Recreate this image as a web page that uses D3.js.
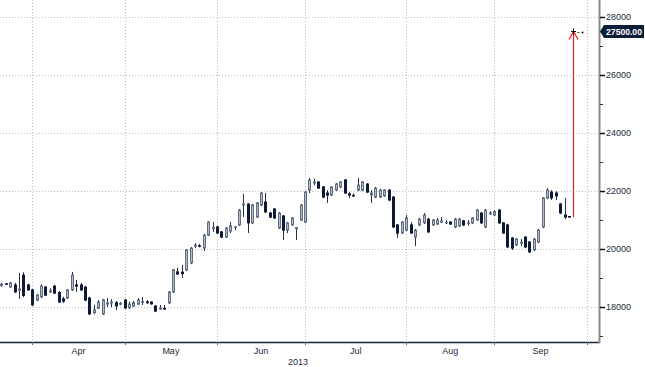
<!DOCTYPE html>
<html>
<head>
<meta charset="utf-8">
<script src="https://cdn.jsdelivr.net/npm/d3@7"></script>
<style>
  body { margin: 0; background: #ffffff; }
  text { font-family: "Liberation Sans", Arial, sans-serif; }
</style>
</head>
<body>
<script>
// daily candles, oldest first (last week of March to late September 2013)
var opens = [
  18740, 18800, 18690, 18760, 18580, 19100, 18760, 18590, 18240, 18345,
  18690, 18520, 18720, 18500, 18280, 18310, 18590, 18760, 18760, 18690,
  18310, 17800, 17960, 17760, 18100, 18140, 18150, 18100, 18240, 17970,
  18030, 18100, 18160, 18180, 18170, 18030, 17930, 17950, 18140, 18520,
  19210, 19200, 19280, 19520, 20100, 20110, 20030, 20480, 20700, 20760,
  20590, 20410, 20620, 20740, 20830, 21520, 21550, 20900, 21100, 21520,
  21620, 21240, 21380, 20720, 21140, 20650, 20830, 20710, 21000, 20930,
  22030, 22280, 22310, 22140, 21930, 21860, 22030, 22140, 22380, 21900,
  21850, 22030, 22030, 22240, 21860, 21790, 21790, 21830, 22030, 21790,
  20830, 20550, 20650, 20830, 20410, 20830, 20900, 21030, 20830, 20860,
  20930, 20900, 20930, 20760, 20790, 20970, 20880, 20900, 21000, 21240,
  20760, 21210, 21170, 21340, 20900, 20830, 20380, 20140, 20200, 20410,
  20240, 19970, 20240, 20760, 21760, 21960, 21930, 21550, 21170, 21120
];
var highs = [
  18830, 18820, 18860, 18830, 19170, 19200, 18800, 18620, 18450, 18790,
  18720, 18650, 18760, 18550, 18350, 18620, 19210, 18930, 18830, 18720,
  18350, 18070, 18240, 18280, 18310, 18270, 18210, 18170, 18280, 18190,
  18210, 18310, 18345, 18240, 18200, 18070, 18070, 18070, 18550, 19310,
  19350, 19450, 20000, 20070, 20200, 20170, 20520, 20960, 20930, 20800,
  20620, 20760, 20930, 20770, 21380, 21900, 21580, 21550, 21620, 21960,
  21930, 21280, 21410, 21280, 21170, 20930, 21100, 20760, 21550, 22000,
  22450, 22420, 22340, 22170, 22030, 22170, 22280, 22340, 22410, 21960,
  21920, 22450, 22340, 22270, 22030, 22140, 22070, 22060, 22070, 21830,
  20860, 20960, 21170, 20930, 20690, 21070, 21240, 21070, 21030, 21070,
  21100, 21000, 20960, 21070, 21070, 21000, 21000, 21100, 21380, 21280,
  21380, 21310, 21330, 21380, 20930, 20860, 20410, 20380, 20340, 20450,
  20270, 20380, 20690, 21790, 22100, 22030, 21990, 21590, 21760, 21130
];
var lows = [
  18690, 18770, 18660, 18480, 18280, 18340, 18560, 18040, 18200, 18310,
  18380, 18480, 18450, 18140, 18140, 18280, 18550, 18520, 18550, 18200,
  17720, 17760, 17930, 17720, 18000, 18000, 17900, 18060, 17930, 17930,
  18000, 18070, 18070, 18100, 18080, 17830, 17900, 17900, 18100, 18480,
  19100, 19000, 19240, 19480, 20030, 20060, 19930, 20450, 20590, 20520,
  20380, 20380, 20550, 20650, 20790, 21100, 20550, 20860, 21070, 21480,
  21240, 21070, 21030, 20690, 20310, 20550, 20800, 20310, 20970, 20900,
  21930, 22200, 22070, 21750, 21590, 21830, 22000, 22100, 21900, 21760,
  21790, 22000, 21990, 21930, 21590, 21760, 21760, 21800, 21650, 20720,
  20380, 20520, 20620, 20520, 20100, 20790, 20860, 20550, 20800, 20830,
  20890, 20860, 20830, 20720, 20760, 20790, 20800, 20860, 20970, 20860,
  20720, 21170, 21140, 20860, 20520, 20030, 19970, 20100, 20100, 20030,
  19860, 19930, 20200, 20720, 21720, 21690, 21690, 21200, 21030, 21090
];
var closes = [
  18790, 18790, 18830, 18520, 18620, 18400, 18590, 18070, 18410, 18720,
  18410, 18560, 18480, 18170, 18200, 18590, 19100, 18720, 18590, 18240,
  17760, 17900, 18170, 18240, 18140, 18170, 18040, 18120, 17970, 18100,
  18150, 18240, 18190, 18150, 18110, 17860, 17960, 17930, 18520, 19280,
  19140, 19150, 19970, 20030, 20130, 20100, 20480, 20930, 20740, 20550,
  20410, 20720, 20800, 20760, 21340, 21550, 20900, 21520, 21590, 21930,
  21280, 21100, 21070, 21240, 20650, 20900, 21070, 20740, 21520, 21960,
  22380, 22310, 22100, 21790, 21860, 22140, 22240, 22310, 21930, 21860,
  21830, 22200, 22310, 21960, 21930, 22100, 22030, 22030, 21690, 20760,
  20550, 20930, 21070, 20550, 20650, 21030, 21170, 20590, 21000, 21000,
  20960, 20920, 20860, 21030, 21030, 20830, 20900, 21070, 21340, 20900,
  21340, 21240, 21290, 20900, 20550, 20070, 20030, 20340, 20230, 20070,
  19900, 20340, 20650, 21760, 22030, 21760, 21830, 21240, 21100, 21100
];

// trading days before April, then trading days per month
var leadDays = 7;
var monthNames = ['Apr', 'May', 'Jun', 'Jul', 'Aug', 'Sep'];
var monthDays = [21, 21, 20, 23, 20, 21];
var yearLabel = '2013';

var majorTicks = [18000, 20000, 22000, 24000, 26000, 28000];
var minorTicks = [17000, 19000, 21000, 23000, 25000, 27000];

var target = 27500;
var targetLabel = '27500.00';

var screen = { width: 645, height: 367 };
var plot = { left: 0, right: 599, top: 0, bottom: 342 };

var candles = opens.map(function(o, i) {
  return { i: i, o: o, h: highs[i], l: lows[i], c: closes[i] };
});

var monthStarts = [leadDays];
monthDays.forEach(function(n, k) {
  monthStarts.push(monthStarts[k] + n);
});

var svg = d3.select('body')
            .append('svg')
            .attr('width', screen.width)
            .attr('height', screen.height);

var xScale = d3.scaleLinear()
               .domain([-0.34, 135.8])
               .range([plot.left, plot.right]);
var yScale = d3.scaleLinear()
               .domain([16793, 28586])
               .range([plot.bottom, plot.top]);

function px(i) { return Math.round(xScale(i)) + 0.5; }

// dotted grid
var grid = svg.append('g').classed('grid', true);
grid.selectAll('line.h')
    .data(majorTicks)
    .enter()
    .append('line')
    .attr('x1', plot.left)
    .attr('x2', plot.right)
    .attr('y1', function(d) { return Math.round(yScale(d)) + 0.5; })
    .attr('y2', function(d) { return Math.round(yScale(d)) + 0.5; })
    .attr('stroke', '#bdbdbd')
    .attr('stroke-dasharray', '1,2');
grid.selectAll('line.v')
    .data(monthStarts)
    .enter()
    .append('line')
    .attr('x1', function(d) { return px(d); })
    .attr('x2', function(d) { return px(d); })
    .attr('y1', plot.top)
    .attr('y2', plot.bottom)
    .attr('stroke', '#bdbdbd')
    .attr('stroke-dasharray', '1,2');

// candles
var wickColor = '#26324a';
var g = svg.append('g').classed('candles', true);
g.selectAll('line')
 .data(candles)
 .enter()
 .append('line')
 .attr('x1', function(d) { return px(d.i); })
 .attr('x2', function(d) { return px(d.i); })
 .attr('y1', function(d) { return yScale(d.h); })
 .attr('y2', function(d) { return yScale(d.l); })
 .attr('stroke', wickColor)
 .attr('stroke-width', 1);

g.selectAll('rect')
 .data(candles)
 .enter()
 .append('rect')
 .attr('x', function(d) { return px(d.i) - 1; })
 .attr('width', 2)
 .attr('y', function(d) { return yScale(Math.max(d.o, d.c)); })
 .attr('height', function(d) {
   return Math.max(0.5, yScale(Math.min(d.o, d.c)) - yScale(Math.max(d.o, d.c)));
 })
 .attr('fill', function(d) { return d.c >= d.o ? '#b3bcc8' : '#0f1b36'; })
 .attr('stroke', function(d) { return d.c >= d.o ? '#5f6d80' : '#0f1b36'; })
 .attr('stroke-width', 1);

// target arrow from the last close
var last = candles[candles.length - 1];
var ti = last.i + 1;
var ax = px(ti);
var arrow = svg.append('g').classed('target', true);
arrow.append('line')
     .attr('x1', ax).attr('x2', ax)
     .attr('y1', yScale(last.c))
     .attr('y2', yScale(target))
     .attr('stroke', '#e3231c')
     .attr('stroke-width', 1.2);
arrow.append('path')
     .attr('d', 'M' + (ax - 4.5) + ',' + (yScale(target) + 8) +
                'L' + ax + ',' + yScale(target) +
                'L' + (ax + 4.5) + ',' + (yScale(target) + 8))
     .attr('fill', 'none')
     .attr('stroke', '#e3231c')
     .attr('stroke-width', 1.2);
arrow.append('line')
     .attr('x1', ax - 2.5).attr('x2', ax + 2.5)
     .attr('y1', Math.round(yScale(target)) + 0.5)
     .attr('y2', Math.round(yScale(target)) + 0.5)
     .attr('stroke', '#111');
arrow.append('line')
     .attr('x1', ax).attr('x2', ax)
     .attr('y1', yScale(target) - 3)
     .attr('y2', yScale(target) + 3)
     .attr('stroke', '#111');
arrow.append('line')
     .attr('x1', px(ti + 1) - 1).attr('x2', px(ti + 1) + 1)
     .attr('y1', Math.round(yScale(target)) + 1.5)
     .attr('y2', Math.round(yScale(target)) + 1.5)
     .attr('stroke', '#333');
arrow.append('circle')
     .attr('cx', px(ti + 2))
     .attr('cy', Math.round(yScale(target)) + 1.5)
     .attr('r', 1.1)
     .attr('fill', '#222');

// x axis
svg.append('line')
   .attr('x1', plot.left).attr('x2', plot.right + 1)
   .attr('y1', plot.bottom + 0.5).attr('y2', plot.bottom + 0.5)
   .attr('stroke', '#1b2a40')
   .attr('stroke-width', 1.5);
svg.selectAll('line.xtick')
   .data(monthStarts)
   .enter()
   .append('line')
   .attr('x1', function(d) { return px(d); })
   .attr('x2', function(d) { return px(d); })
   .attr('y1', plot.bottom)
   .attr('y2', plot.bottom + 3)
   .attr('stroke', '#667');
svg.selectAll('text.month')
   .data(monthNames)
   .enter()
   .append('text')
   .attr('x', function(d, k) { return (xScale(monthStarts[k]) + xScale(monthStarts[k + 1])) / 2; })
   .attr('y', 354)
   .attr('text-anchor', 'middle')
   .attr('font-size', '9px')
   .attr('fill', '#1d2a3c')
   .text(function(d) { return d; });
svg.append('text')
   .attr('x', (xScale(monthStarts[2]) + xScale(monthStarts[3])) / 2 + 37)
   .attr('y', 365)
   .attr('text-anchor', 'middle')
   .attr('font-size', '9px')
   .attr('fill', '#1d2a3c')
   .text(yearLabel);

// y axis on the right
svg.append('line')
   .attr('x1', plot.right + 0.5).attr('x2', plot.right + 0.5)
   .attr('y1', plot.top).attr('y2', plot.bottom + 1)
   .attr('stroke', '#8a8a8a')
   .attr('stroke-width', 2);
svg.selectAll('line.ymajor')
   .data(majorTicks)
   .enter()
   .append('line')
   .attr('x1', plot.right + 1).attr('x2', plot.right + 6)
   .attr('y1', function(d) { return Math.round(yScale(d)) + 0.5; })
   .attr('y2', function(d) { return Math.round(yScale(d)) + 0.5; })
   .attr('stroke', '#111')
   .attr('stroke-width', 1.5);
svg.selectAll('line.yminor')
   .data(minorTicks)
   .enter()
   .append('line')
   .attr('x1', plot.right + 1).attr('x2', plot.right + 4)
   .attr('y1', function(d) { return Math.round(yScale(d)) + 0.5; })
   .attr('y2', function(d) { return Math.round(yScale(d)) + 0.5; })
   .attr('stroke', '#333');
svg.selectAll('text.ylab')
   .data(majorTicks)
   .enter()
   .append('text')
   .attr('x', plot.right + 7)
   .attr('y', function(d) { return yScale(d); })
   .attr('dy', '0.35em')
   .attr('font-size', '9px')
   .attr('fill', '#1d2a3c')
   .text(function(d) { return d; });

// last value tag
var ty = yScale(target);
svg.append('path')
   .attr('d', 'M' + (plot.right + 1) + ',' + ty +
              'L' + (plot.right + 5) + ',' + (ty - 6.5) +
              'L' + (screen.width - 1) + ',' + (ty - 6.5) +
              'L' + (screen.width - 1) + ',' + (ty + 6.5) +
              'L' + (plot.right + 5) + ',' + (ty + 6.5) + 'Z')
   .attr('fill', '#0d1d38');
svg.append('text')
   .attr('x', plot.right + 5 + (screen.width - plot.right - 6) / 2)
   .attr('y', ty)
   .attr('dy', '0.36em')
   .attr('text-anchor', 'middle')
   .attr('font-size', '8.6px')
   .attr('font-weight', 'bold')
   .attr('fill', '#ffffff')
   .text(targetLabel);
</script>
</body>
</html>
